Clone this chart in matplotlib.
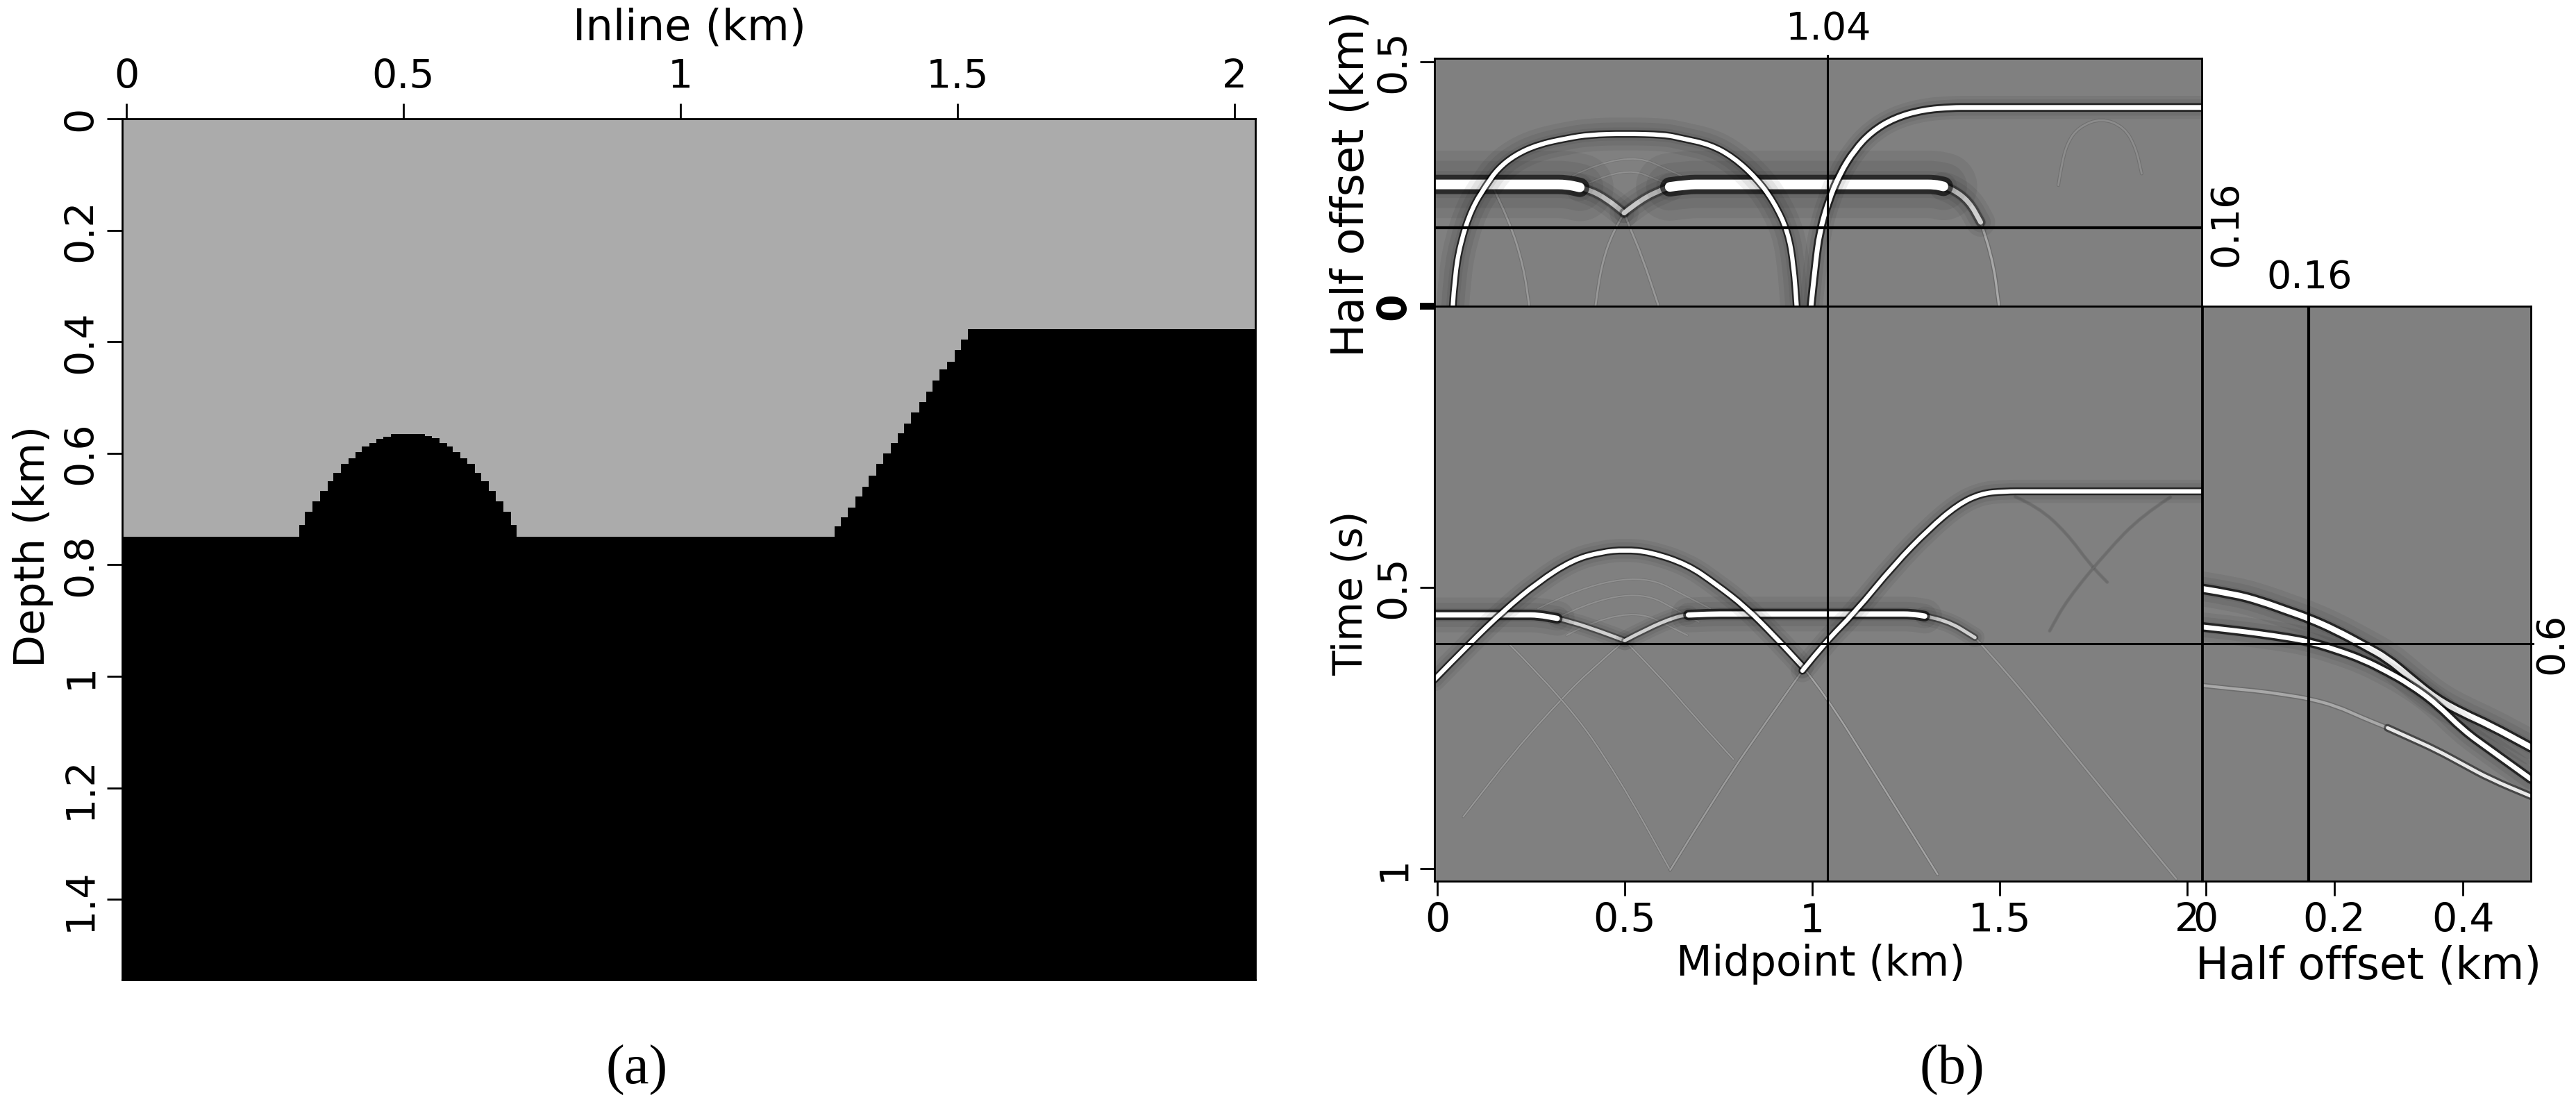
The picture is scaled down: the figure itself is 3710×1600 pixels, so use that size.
import matplotlib
matplotlib.use("Agg")
import matplotlib.pyplot as plt
from matplotlib.path import Path
from matplotlib.patches import PathPatch

W, H = 3710, 1600
plt.rcParams['font.family'] = ['DejaVu Sans']

# (a) velocity model: staircase interface, x in km and depth in km
interface_x = [-0.0075, 0.3116, 0.3221, 0.3358, 0.3492, 0.3630, 0.3734, 0.3868, 0.4006, 0.4140, 0.4248,
               0.4382, 0.4507, 0.4641, 0.4770, 0.5384, 0.5518, 0.5656, 0.5789, 0.5894, 0.6023, 0.6157,
               0.6295, 0.6399, 0.6537, 0.6671, 0.6805, 0.6942, 0.7047,
               1.2778, 1.2891, 1.3020, 1.3154, 1.3287, 1.3396, 1.3530, 1.3663, 1.3793, 1.3927, 1.4039,
               1.4165, 1.4311, 1.4440, 1.4545, 1.4678, 1.4816, 1.4950, 1.5059, 1.5188, 2.0375]
interface_z = [0.7501, 0.7281, 0.7044, 0.6858, 0.6671, 0.6505, 0.6347, 0.6193, 0.6090, 0.5973, 0.5882,
               0.5820, 0.5737, 0.5704, 0.5654, 0.5695, 0.5724, 0.5820, 0.5882, 0.5973, 0.6090, 0.6193,
               0.6347, 0.6505, 0.6671, 0.6858, 0.7044, 0.7281, 0.7501,
               0.7314, 0.7148, 0.6970, 0.6775, 0.6596, 0.6401, 0.6193, 0.5998, 0.5812, 0.5645, 0.5467,
               0.5272, 0.5085, 0.4898, 0.4691, 0.4491, 0.4359, 0.4147, 0.3964, 0.3773, 0.3773]
inline_ticks = [0, 0.5, 1, 1.5, 2]
inline_labels = ['0', '0.5', '1', '1.5', '2']
depth_ticks = [0, 0.2, 0.4, 0.6, 0.8, 1, 1.2, 1.4]
depth_labels = ['0', '0.2', '0.4', '0.6', '0.8', '1', '1.2', '1.4']

# (b) top panel: midpoint (km), half offset (km)
top_flat_left_x = [-0.0077, 0.3000, 0.3451, 0.3800]
top_flat_left_h = [0.2491, 0.2491, 0.2491, 0.2430]
top_flat_right_x = [0.6200, 0.6672, 0.7100, 1.2900, 1.3267, 1.3500]
top_flat_right_h = [0.2440, 0.2491, 0.2491, 0.2491, 0.2491, 0.2450]
top_shoulder1_x = [0.3800, 0.4064, 0.4525, 0.4985]
top_shoulder1_h = [0.2430, 0.2381, 0.2192, 0.1907]
top_shoulder2_x = [0.4985, 0.5445, 0.6058, 0.6200]
top_shoulder2_h = [0.1907, 0.2192, 0.2405, 0.2440]
top_shoulder3_x = [1.3500, 1.3727, 1.4187, 1.4494]
top_shoulder3_h = [0.2450, 0.2405, 0.2144, 0.1717]
top_tail1_x = [0.4985, 0.5138, 0.5445, 0.5905]
top_tail1_h = [0.1907, 0.1599, 0.1053, 0.0]
top_tail2_x = [0.4985, 0.4678, 0.4371, 0.4218]
top_tail2_h = [0.1907, 0.1527, 0.0816, 0.0]
top_tail3_x = [1.4494, 1.4801, 1.4985]
top_tail3_h = [0.1717, 0.1053, 0.0]
top_tail4_x = [0.1457, 0.1917, 0.2301, 0.2454]
top_tail4_h = [0.2476, 0.1765, 0.0816, 0.0]
top_arch_x = [0.0414, 0.0460, 0.0613, 0.0920, 0.1304, 0.1610, 0.2071, 0.2684, 0.3451, 0.4064, 0.5,
              0.6058, 0.6518, 0.7285, 0.7899, 0.8512, 0.8972, 0.9356, 0.9509, 0.9586]
top_arch_h = [0.0, 0.0579, 0.1290, 0.2002, 0.2476, 0.2808, 0.3093, 0.3306, 0.3435, 0.3510, 0.3529,
              0.3510, 0.3435, 0.3306, 0.3046, 0.2619, 0.2144, 0.1527, 0.0816, 0.0]
top_ramp_x = [0.9969, 1.0077, 1.0199, 1.0429, 1.0736, 1.1120, 1.1580, 1.2193, 1.2960, 1.3727, 1.4200, 2.0368]
top_ramp_h = [0.0, 0.0816, 0.1527, 0.2144, 0.2713, 0.3188, 0.3567, 0.3852, 0.4018, 0.4065, 0.4065, 0.4065]
top_small_x = [1.6564, 1.6641, 1.6794, 1.7101, 1.7715, 1.8328, 1.8635, 1.8788]
top_small_h = [0.2476, 0.2856, 0.3330, 0.3662, 0.3852, 0.3662, 0.3235, 0.2713]
top_inner1_x = [0.3604, 0.5, 0.6518]
top_inner1_h = [0.2666, 0.3188, 0.2666]
top_inner2_x = [0.4064, 0.5, 0.6058]
top_inner2_h = [0.2524, 0.2856, 0.2524]

# (b) main panel: midpoint (km), time (s)
main_hump_x = [-0.0077, 0.0844, 0.1764, 0.2684, 0.3604, 0.4371, 0.5, 0.5675, 0.6672, 0.7439, 0.8206, 0.8972, 0.9739]
main_hump_t = [0.6638, 0.6008, 0.5417, 0.4906, 0.4512, 0.4370, 0.4331, 0.4370, 0.4591, 0.4945, 0.5339, 0.5850, 0.6402]
main_hump_tail_x = [0.9739, 1.0353, 1.158, 1.3344]
main_hump_tail_t = [0.6402, 0.6913, 0.8213, 1.0102]
main_left_x = [-0.0077, 0.2300, 0.2684, 0.3200]
main_left_t = [0.5488, 0.5488, 0.5488, 0.5550]
main_right_x = [0.6700, 0.7285, 0.7800, 1.2200, 1.2653, 1.3000]
main_right_t = [0.5490, 0.5472, 0.5472, 0.5472, 0.5472, 0.5510]
main_shoulder1_x = [0.3200, 0.3604, 0.4371, 0.5]
main_shoulder1_t = [0.5550, 0.5614, 0.5787, 0.5945]
main_shoulder2_x = [0.5, 0.5598, 0.6365, 0.6700]
main_shoulder2_t = [0.5945, 0.5732, 0.5520, 0.5490]
main_shoulder3_x = [1.3000, 1.3574, 1.4340]
main_shoulder3_t = [0.5510, 0.5575, 0.5890]
main_tail1_x = [1.4340, 1.5261, 1.6794, 1.8635, 1.9709]
main_tail1_t = [0.5890, 0.6559, 0.7819, 0.9315, 1.0181]
main_tail2_x = [0.5, 0.4064, 0.3298, 0.2071, 0.0690]
main_tail2_t = [0.5945, 0.6480, 0.6992, 0.7898, 0.9079]
main_tail3_x = [0.5, 0.5905, 0.6825, 0.7899]
main_tail3_t = [0.5945, 0.6559, 0.7268, 0.8055]
main_tail4_x = [0.1917, 0.3451, 0.4831, 0.6212]
main_tail4_t = [0.6008, 0.7031, 0.8370, 1.0024]
main_ramp_tail_x = [0.6212, 0.7592, 0.8819, 0.9739]
main_ramp_tail_t = [1.0024, 0.8528, 0.7346, 0.6480]
main_ramp_x = [0.9739, 1.0353, 1.1120, 1.2193, 1.3113, 1.3880, 1.4494, 1.5107, 1.5800, 2.0368]
main_ramp_t = [0.6480, 0.5969, 0.5457, 0.4591, 0.3961, 0.3528, 0.3331, 0.3291, 0.3291, 0.3291]
main_dif1_x = [1.5414, 1.6028, 1.6794, 1.7408, 1.7868]
main_dif1_t = [0.3386, 0.3567, 0.4039, 0.4591, 0.4906]
main_dif2_x = [1.9555, 1.8788, 1.7868, 1.6794, 1.6334]
main_dif2_t = [0.3394, 0.3724, 0.4354, 0.5220, 0.5772]
main_inner1_x = [0.2684, 0.5, 0.7285]
main_inner1_t = [0.5378, 0.4591, 0.5378]
main_inner2_x = [0.2991, 0.5, 0.6979]
main_inner2_t = [0.5614, 0.4906, 0.5614]
main_inner3_x = [0.3451, 0.5, 0.6672]
main_inner3_t = [0.5850, 0.5299, 0.5850]

# (b) right panel: half offset (km), time (s)
off_x = [-0.0050, 0.0433, 0.0853, 0.1273, 0.1601, 0.2029, 0.2450, 0.2828, 0.3164, 0.3584, 0.4004, 0.4424, 0.5055]
off_t1 = [0.5026, 0.5113, 0.5243, 0.5416, 0.5546, 0.5763, 0.6023, 0.6262, 0.6586, 0.6976, 0.7236, 0.7452, 0.7842]
off_t2 = [0.5702, 0.5763, 0.5823, 0.5893, 0.5962, 0.6109, 0.6282, 0.6499, 0.6716, 0.7062, 0.7539, 0.7886, 0.8406]
off_t3 = [0.6742, 0.6802, 0.6846, 0.6915, 0.6976, 0.7106, 0.7322, 0.7496, 0.7669, 0.7886, 0.8146, 0.8406, 0.8709]

mid_ticks = [0, 0.5, 1, 1.5, 2]
mid_labels = ['0', '0.5', '1', '1.5', '2']
offset_ticks = [0, 0.2, 0.4]
offset_labels = ['0', '0.2', '0.4']
cross_mid = 1.04
cross_off = 0.16
cross_time = 0.6


def add_ax(left, top, right, bottom):
    return fig.add_axes([left / W, 1 - bottom / H, (right - left) / W, (bottom - top) / H])


def px_text(x, y, s, **kw):
    fig.text(x / W, 1 - y / H, s, ha='center', va='center', **kw)


def stroke(ax, x, y, color, lw, alpha=1.0):
    # rounds the corners of the read points with quadratic pieces
    verts = [(x[0], y[0])]
    codes = [Path.MOVETO]
    for i in range(1, len(x) - 1):
        verts += [(x[i], y[i]), ((x[i] + x[i + 1]) / 2, (y[i] + y[i + 1]) / 2)]
        codes += [Path.CURVE3, Path.CURVE3]
    verts.append((x[-1], y[-1]))
    codes.append(Path.LINETO)
    ax.add_patch(PathPatch(Path(verts, codes), fill=False, edgecolor=color, lw=lw, alpha=alpha, capstyle='round'))


def event(ax, x, y, white=4.5, black=8, halo=0, dark=0.65, light='white'):
    # a strong reflection: soft shadow, black side lobes, white centre
    for f in (1.0, 0.7, 0.4):
        if halo:
            stroke(ax, x, y, 'black', halo * f, 0.06)
    stroke(ax, x, y, 'black', black, dark)
    stroke(ax, x, y, light, white)


def faint(ax, x, y, light='#a4a4a4', lw=1.8, dark=0.16):
    stroke(ax, x, y, 'black', lw * 1.8, dark)
    stroke(ax, x, y, light, lw)


def style_seis(ax):
    ax.set_facecolor('#808080')
    for s in ax.spines.values():
        s.set_linewidth(2)
    ax.tick_params(width=2, length=15, labelsize=41, pad=7)


fig = plt.figure(figsize=(W / 100, H / 100), dpi=100, facecolor='white')

# panel (a)
ax = add_ax(176, 171, 1808, 1411)
ax.set_facecolor('#ababab')
ax.set_xlim(-0.0075, 2.0375)
ax.set_ylim(1.544, 0)
ax.fill_between(interface_x, interface_z, 1.6, step='post', color='black', lw=0)
ax.xaxis.tick_top()
ax.set_xticks(inline_ticks)
ax.set_xticklabels(inline_labels)
ax.set_yticks(depth_ticks)
ax.set_yticklabels(depth_labels, rotation=90, va='center')
ax.tick_params(width=2, length=16, labelsize=41, pad=7)
for s in ax.spines.values():
    s.set_linewidth(2)
px_text(993, 41, 'Inline (km)', fontsize=45)
px_text(48, 787, 'Depth (km)', fontsize=44, rotation=90)

# top panel
top = add_ax(2066, 84, 3171, 441)
style_seis(top)
top.set_xlim(-0.0074, 2.039)
top.set_ylim(0, 0.507)
top.set_xticks([])
top.set_yticks([0, 0.5])
top.set_yticklabels(['0', '0.5'], rotation=90, va='center')
top.get_yticklabels()[0].set_fontweight('bold')
top.yaxis.get_major_ticks()[0].tick1line.set_markeredgewidth(7)
faint(top, top_inner1_x, top_inner1_h, '#909090', 1.5, 0.08)
faint(top, top_inner2_x, top_inner2_h, '#909090', 1.5, 0.08)
faint(top, top_tail4_x, top_tail4_h, '#989898', 2.0, 0.12)
faint(top, top_tail1_x, top_tail1_h, '#989898', 2.0, 0.12)
faint(top, top_tail2_x, top_tail2_h, '#989898', 2.0, 0.12)
faint(top, top_tail3_x, top_tail3_h, '#a8a8a8', 2.4)
faint(top, top_small_x, top_small_h, '#8c8c8c', 2.0, 0.12)
event(top, top_shoulder1_x, top_shoulder1_h, white=5, black=10, halo=30, dark=0.3, light='#c8c8c8')
event(top, top_shoulder2_x, top_shoulder2_h, white=5, black=10, halo=30, dark=0.3, light='#c8c8c8')
event(top, top_shoulder3_x, top_shoulder3_h, white=5, black=10, halo=30, dark=0.35, light='#d0d0d0')
event(top, top_flat_left_x, top_flat_left_h, white=10, black=20, halo=70, dark=0.6)
event(top, top_flat_right_x, top_flat_right_h, white=10, black=20, halo=70, dark=0.6)
event(top, top_arch_x, top_arch_h, white=4.5, black=8, halo=34)
event(top, top_ramp_x, top_ramp_h, white=5, black=9, halo=24)

# main panel
main = add_ax(2066, 441, 3171, 1268.6)
style_seis(main)
main.set_xlim(-0.0074, 2.039)
main.set_ylim(1.0217, 0)
main.set_xticks(mid_ticks)
main.set_xticklabels(mid_labels)
main.set_yticks([0, 0.5, 1])
main.set_yticklabels(['0', '0.5', '1'], rotation=90, va='center')
faint(main, main_inner1_x, main_inner1_t, '#909090', 1.5, 0.08)
faint(main, main_inner2_x, main_inner2_t, '#909090', 1.5, 0.08)
faint(main, main_inner3_x, main_inner3_t, '#909090', 1.5, 0.08)
faint(main, main_hump_tail_x, main_hump_tail_t, '#a4a4a4', 1.8)
faint(main, main_tail1_x, main_tail1_t, '#989898', 1.8, 0.12)
faint(main, main_tail2_x, main_tail2_t, '#989898', 1.5, 0.14)
faint(main, main_tail3_x, main_tail3_t, '#989898', 1.5, 0.14)
faint(main, main_tail4_x, main_tail4_t, '#989898', 1.5, 0.14)
faint(main, main_ramp_tail_x, main_ramp_tail_t, '#9c9c9c', 1.8)
faint(main, main_dif1_x, main_dif1_t, '#6c6c6c', 2.0, 0.1)
faint(main, main_dif2_x, main_dif2_t, '#6c6c6c', 2.0, 0.1)
event(main, main_shoulder1_x, main_shoulder1_t, white=3.5, black=7, halo=20, dark=0.3, light='#d0d0d0')
event(main, main_shoulder2_x, main_shoulder2_t, white=3.5, black=7, halo=20, dark=0.3, light='#d0d0d0')
event(main, main_shoulder3_x, main_shoulder3_t, white=3.5, black=7, halo=20, dark=0.3, light='#d0d0d0')
event(main, main_left_x, main_left_t, white=5.5, black=11, halo=36)
event(main, main_right_x, main_right_t, white=5.5, black=11, halo=36)
event(main, main_hump_x, main_hump_t, white=4.5, black=8, halo=24)
event(main, main_ramp_x, main_ramp_t, white=4.5, black=8, halo=24)

# right panel
side = add_ax(3171.6, 441, 3645, 1268.6)
style_seis(side)
side.set_xlim(-0.0054, 0.5056)
side.set_ylim(1.0217, 0)
side.set_xticks(offset_ticks)
side.set_xticklabels(offset_labels)
side.set_yticks([])
faint(side, off_x[:8], off_t3[:8], '#a8a8a8', 3.0, 0.15)
event(side, off_x[7:], off_t3[7:], white=3.5, black=8, dark=0.45, light='#e8e8e8')
event(side, off_x, off_t1, white=6, black=11, halo=36)
event(side, off_x, off_t2, white=5, black=10, halo=30)

# crosshairs
top.axvline(cross_mid, color='black', lw=2.2, ymax=1.01, clip_on=False, zorder=5)
top.axhline(cross_off, color='black', lw=3, zorder=5)
main.axvline(cross_mid, color='black', lw=2.2, zorder=5)
main.axhline(cross_time, color='black', lw=2.2, zorder=5)
side.axvline(cross_off, color='black', lw=3, zorder=5)
side.axhline(cross_time, color='black', lw=2.2, xmax=1.007, clip_on=False, zorder=5)

px_text(2634, 42, '1.04', fontsize=40)
px_text(3326, 400, '0.16', fontsize=40)
px_text(3206, 322, '0.16', fontsize=40, rotation=90)
px_text(3675, 927, '0.6', fontsize=40, rotation=90)
px_text(1946, 265, 'Half offset (km)', fontsize=46, rotation=90)
px_text(1945, 854, 'Time (s)', fontsize=42, rotation=90)
px_text(2622, 1388, 'Midpoint (km)', fontsize=43)
px_text(3411, 1392, 'Half offset (km)', fontsize=46)

px_text(917, 1541, '(a)', fontsize=58, family='Liberation Serif')
px_text(2811, 1541, '(b)', fontsize=58, family='Liberation Serif')

fig.savefig('out.png', dpi=100)
